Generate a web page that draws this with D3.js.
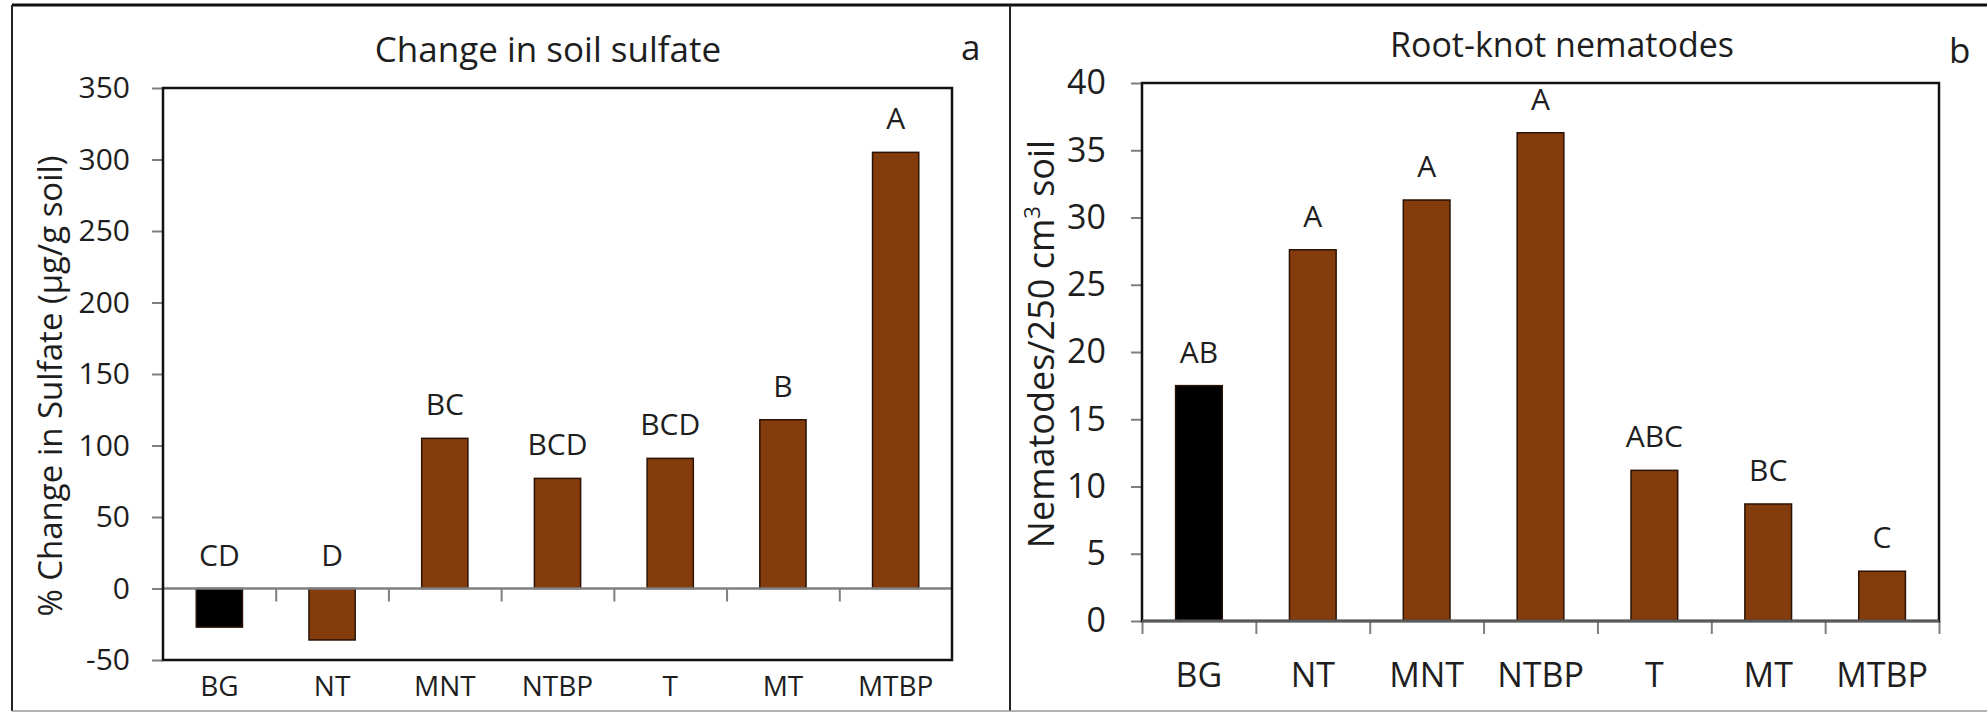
<!DOCTYPE html>
<html>
<head>
<meta charset="utf-8">
<script src="https://cdn.jsdelivr.net/npm/d3@7"></script>
<style>
  body { margin: 0; background: #fff; }
  text { font-family: "Open Sans", sans-serif; fill: #1e1e1e; }
</style>
</head>
<body>
<div id="chart-area"></div>
<script>
// data
var treatments = ["BG", "NT", "MNT", "NTBP", "T", "MT", "MTBP"];
var sulfateChange = [-27, -36, 105, 77, 91, 118, 305];
var sulfateLetters = ["CD", "D", "BC", "BCD", "BCD", "B", "A"];
var sulfateTicks = [-50, 0, 50, 100, 150, 200, 250, 300, 350];
var nematodeCounts = [17.5, 27.6, 31.3, 36.3, 11.2, 8.7, 3.7];
var nematodeLetters = ["AB", "A", "A", "A", "ABC", "BC", "C"];
var nematodeTicks = [0, 5, 10, 15, 20, 25, 30, 35, 40];
var barColors = ["#000000", "#843c0c", "#843c0c", "#843c0c", "#843c0c", "#843c0c", "#843c0c"];

var width = 1987, height = 713;

var svg = d3.select("#chart-area").append("svg")
	.attr("width", width)
	.attr("height", height);

// outer figure frame + divider
svg.append("line").attr("x1", 12).attr("y1", 5).attr("x2", width).attr("y2", 5)
	.attr("stroke", "#111").attr("stroke-width", 3);
svg.append("line").attr("x1", 12).attr("y1", 5).attr("x2", 12).attr("y2", 711)
	.attr("stroke", "#222").attr("stroke-width", 2);
svg.append("line").attr("x1", 1010).attr("y1", 5).attr("x2", 1010).attr("y2", 711)
	.attr("stroke", "#222").attr("stroke-width", 2);
svg.append("line").attr("x1", 12).attr("y1", 711).attr("x2", width).attr("y2", 711)
	.attr("stroke", "#999").attr("stroke-width", 1.5);

function drawPanel(p) {
	var y = d3.scaleLinear().domain(p.domain).range([p.bottom, p.top]);
	var x = d3.scaleBand().domain(treatments).range([p.left, p.right])
		.paddingInner(0.59).paddingOuter(0.295);
	var idx = d3.scaleLinear().domain([0, treatments.length]).range([p.left, p.right]);

	var g = svg.append("g");

	// y axis (plain hyphen for negatives, like the original)
	var yAxis = g.append("g")
		.attr("transform", "translate(" + p.left + ",0)")
		.call(d3.axisLeft(y).tickValues(p.ticks).tickSize(11).tickPadding(p.tickPad)
			.tickFormat(function(d) { return String(d); }));
	yAxis.select(".domain").remove();
	yAxis.selectAll("line").attr("stroke", "#7f7f7f").attr("stroke-width", 2);
	yAxis.selectAll("text")
		.style("font-family", "'Open Sans', sans-serif")
		.attr("font-size", p.tickFont).attr("fill", "#1e1e1e");

	// bars
	g.selectAll("rect.bar")
		.data(p.values)
		.enter().append("rect")
		.attr("class", "bar")
		.attr("x", function(d, i) { return x(treatments[i]); })
		.attr("width", x.bandwidth())
		.attr("y", function(d) { return y(Math.max(d, 0)); })
		.attr("height", function(d) { return Math.abs(y(d) - y(0)); })
		.attr("fill", function(d, i) { return barColors[i]; })
		.attr("stroke", "#2a1204")
		.attr("stroke-width", 1.5);

	// zero line with category boundary ticks
	var xAxis = g.append("g")
		.attr("transform", "translate(0," + y(0) + ")")
		.call(d3.axisBottom(idx).tickValues(p.boundaryTicks).tickSize(13).tickFormat(""));
	xAxis.select(".domain").attr("stroke", "#7f7f7f").attr("stroke-width", 2.5)
		.attr("d", "M" + p.left + ",0H" + p.right);
	xAxis.selectAll("line").attr("stroke", "#7f7f7f").attr("stroke-width", 2);

	// plot frame
	g.append("rect")
		.attr("x", p.left).attr("y", p.top)
		.attr("width", p.right - p.left).attr("height", p.bottom - p.top)
		.attr("fill", "none").attr("stroke", "#111").attr("stroke-width", 2.5);
	if (p.domain[0] === 0) {
		g.append("line").attr("x1", p.left).attr("x2", p.right)
			.attr("y1", y(0)).attr("y2", y(0))
			.attr("stroke", "#5a5a5a").attr("stroke-width", 2.5);
	}

	// category labels
	var cat = g.append("g")
		.attr("transform", "translate(0," + p.catY + ")")
		.call(d3.axisBottom(x).tickSize(0).tickPadding(0));
	cat.select(".domain").remove();
	cat.selectAll("text")
		.attr("y", 0).attr("dy", 0)
		.style("font-family", "'Open Sans', sans-serif")
		.attr("font-size", p.catFont).attr("fill", "#1e1e1e");

	// significance letters
	g.selectAll("text.letter")
		.data(p.letters)
		.enter().append("text")
		.attr("class", "letter")
		.attr("x", function(d, i) { return x(treatments[i]) + x.bandwidth() / 2; })
		.attr("y", function(d, i) { return y(Math.max(p.values[i], 0)) - 23; })
		.attr("text-anchor", "middle")
		.attr("font-size", 30)
		.text(function(d) { return d; });

	// title and tag
	g.append("text")
		.attr("x", p.titleX).attr("y", p.titleY)
		.attr("text-anchor", "middle")
		.attr("font-size", p.titleFont)
		.text(p.title);
	g.append("text")
		.attr("x", p.tagX).attr("y", p.tagY)
		.attr("font-size", 35)
		.text(p.tag);

	return g;
}

var ga = drawPanel({
	left: 163, right: 952, top: 88, bottom: 660,
	domain: [-50, 350], ticks: sulfateTicks, tickPad: 22, tickFont: 30,
	values: sulfateChange, letters: sulfateLetters,
	boundaryTicks: [1, 2, 3, 4, 5, 6],
	catY: 696, catFont: 28,
	title: "Change in soil sulfate", titleX: 548, titleY: 62, titleFont: 35,
	tag: "a", tagX: 961, tagY: 60
});

ga.append("text")
	.attr("transform", "translate(62,386) rotate(-90)")
	.attr("text-anchor", "middle")
	.attr("font-size", 33)
	.text("% Change in Sulfate (µg/g soil)");

var gb = drawPanel({
	left: 1142, right: 1939, top: 83, bottom: 621,
	domain: [0, 40], ticks: nematodeTicks, tickPad: 25, tickFont: 34,
	values: nematodeCounts, letters: nematodeLetters,
	boundaryTicks: [0, 1, 2, 3, 4, 5, 6, 7],
	catY: 687, catFont: 34,
	title: "Root-knot nematodes", titleX: 1562, titleY: 57, titleFont: 34,
	tag: "b", tagX: 1949, tagY: 63
});

var yl = gb.append("text")
	.attr("transform", "translate(1054,344) rotate(-90)")
	.attr("text-anchor", "middle")
	.attr("font-size", 36);
yl.append("tspan").text("Nematodes/250 cm");
yl.append("tspan").attr("font-size", 22).attr("dy", -14).text("3");
yl.append("tspan").attr("dy", 14).text(" soil");
</script>
</body>
</html>
